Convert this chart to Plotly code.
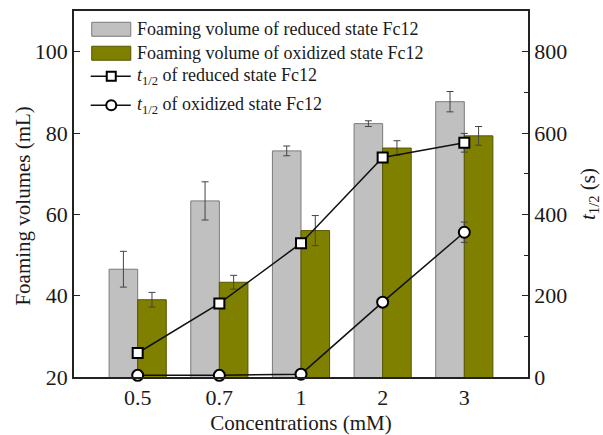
import plotly.graph_objects as go

categories = ["0.5", "0.7", "1", "2", "3"]
vol_reduced = [46.5, 63.3, 75.6, 82.3, 87.7]
vol_reduced_err = [4.4, 4.7, 1.2, 0.7, 2.5]
vol_oxidized = [39.0, 43.3, 56.0, 76.3, 79.3]
vol_oxidized_err = [1.8, 1.7, 3.7, 1.8, 2.3]
t_reduced = [59, 181, 329, 540, 576]
t_reduced_err = [3, 4, 4, 4, 23]
t_oxidized = [4, 4, 7, 184, 356]
t_oxidized_err = [5, 5, 5, 4, 25]

legend_labels = [
    "Foaming volume of reduced state Fc12",
    "Foaming volume of oxidized state Fc12",
    "<i>t</i><sub>1/2</sub> of reduced state Fc12",
    "<i>t</i><sub>1/2</sub> of oxidized state Fc12",
]

FONT = "Liberation Serif"
GREY = "#C0C0C0"
OLIVE = "#808000"
ERRC = "#444444"

fig = go.Figure()
fig.add_trace(go.Bar(
    x=categories, y=vol_reduced, name=legend_labels[0],
    marker=dict(color=GREY, line=dict(color="#7a7a7a", width=1)),
    error_y=dict(type="data", array=vol_reduced_err, color=ERRC, thickness=1, width=3.5),
    yaxis="y",
))
fig.add_trace(go.Bar(
    x=categories, y=vol_oxidized, name=legend_labels[1],
    marker=dict(color=OLIVE, line=dict(color="#555500", width=1)),
    error_y=dict(type="data", array=vol_oxidized_err, color=ERRC, thickness=1, width=3.5),
    yaxis="y",
))
fig.add_trace(go.Scatter(
    x=categories, y=t_reduced, name=legend_labels[2], mode="lines+markers",
    line=dict(color="#111111", width=1.5),
    marker=dict(symbol="square", size=10, color="white", line=dict(color="black", width=2)),
    error_y=dict(type="data", array=t_reduced_err, color=ERRC, thickness=1, width=3.5),
    yaxis="y2",
))
fig.add_trace(go.Scatter(
    x=categories, y=t_oxidized, name=legend_labels[3], mode="lines+markers",
    line=dict(color="#111111", width=1.5),
    marker=dict(symbol="circle", size=11, color="white", line=dict(color="black", width=2)),
    error_y=dict(type="data", array=t_oxidized_err, color=ERRC, thickness=1, width=3.5),
    yaxis="y2", cliponaxis=False,
))

# plot area in pixels
L, R, T, B = 74.3, 527.7, 10.7, 377.3
W, H = R - L, B - T

def px(x):
    return (x - L) / W

def py(y):
    return (B - y) / H

shapes = []
annotations = []
# legend boxes
for i, (col, lc) in enumerate([(GREY, "#7a7a7a"), (OLIVE, "#555500")]):
    y0, y1 = 22 + i * 24, 36 + i * 24
    shapes.append(dict(type="rect", xref="paper", yref="paper",
                       x0=px(92), x1=px(131), y0=py(y1), y1=py(y0),
                       fillcolor=col, line=dict(color=lc, width=1)))
# legend lines with markers
for i, yy in enumerate([76, 105]):
    shapes.append(dict(type="line", xref="paper", yref="paper",
                       x0=px(91), x1=px(131), y0=py(yy), y1=py(yy),
                       line=dict(color="#111111", width=1.5)))
    if i == 0:
        shapes.append(dict(type="rect", xref="paper", yref="paper",
                           x0=px(107), x1=px(116), y0=py(yy + 4.5), y1=py(yy - 4.5),
                           fillcolor="white", line=dict(color="black", width=2)))
    else:
        shapes.append(dict(type="circle", xref="paper", yref="paper",
                           x0=px(106.5), x1=px(116.5), y0=py(yy + 5), y1=py(yy - 5),
                           fillcolor="white", line=dict(color="black", width=2)))
for i, (lab, yy) in enumerate(zip(legend_labels, [29, 53, 76, 105])):
    annotations.append(dict(text=lab, xref="paper", yref="paper", x=px(135), y=py(yy),
                            xanchor="left", yanchor="middle", showarrow=False,
                            font=dict(family=FONT, size=18, color="#1a1a1a")))
# left axis title
annotations.append(dict(text="Foaming volumes (mL)", xref="paper", yref="paper",
                        x=px(23), y=py(206), xanchor="center", yanchor="middle",
                        textangle=-90, showarrow=False,
                        font=dict(family=FONT, size=21, color="#1a1a1a")))

fig.update_layout(
    width=603, height=435,
    margin=dict(l=L, r=603 - R, t=T, b=435 - B),
    paper_bgcolor="white", plot_bgcolor="white",
    barmode="group", bargap=0.3, bargroupgap=0,
    showlegend=False,
    font=dict(family=FONT, size=21, color="#1a1a1a"),
    shapes=shapes, annotations=annotations,
    xaxis=dict(
        type="category", range=[-0.78, 4.78], automargin=False,
        showline=True, linecolor="#222", linewidth=1.5, mirror=True,
        ticks="", showgrid=False, zeroline=False,
        title=dict(text="Concentrations (mM)", standoff=14, font=dict(size=21)),
        tickfont=dict(size=22),
    ),
    yaxis=dict(
        range=[20, 110], tickvals=[20, 40, 60, 80, 100], automargin=False,
        showline=True, linecolor="#222", linewidth=1.5,
        ticks="inside", ticklen=6, tickcolor="#222",
        showgrid=False, zeroline=False,
        tickfont=dict(size=22),
    ),
    yaxis2=dict(
        overlaying="y", side="right", automargin=False,
        range=[0, 900], tickvals=[0, 200, 400, 600, 800],
        showline=True, linecolor="#222", linewidth=1.5,
        ticks="inside", ticklen=6, tickcolor="#222",
        minor=dict(ticks="inside", ticklen=4, tickcolor="#222", dtick=100),
        showgrid=False, zeroline=False,
        title=dict(text="<i>t</i><sub>1/2</sub> (s)", standoff=14, font=dict(size=21)),
        tickfont=dict(size=22),
    ),
)

fig.write_html("out.html")
